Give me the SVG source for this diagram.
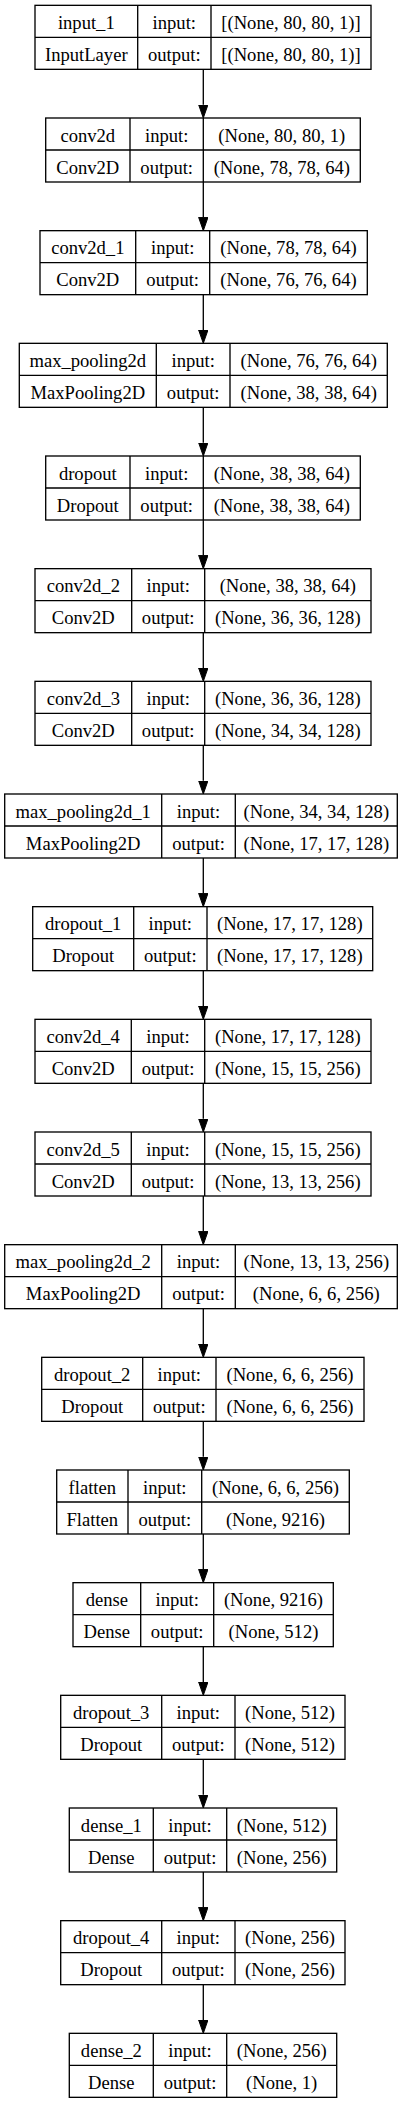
<svg xmlns="http://www.w3.org/2000/svg" width="407" height="2103" viewBox="0 0 407 2103">
<style>
.b{fill:none;stroke:#000;stroke-width:1.33}
text{font-family:"Liberation Serif","Times New Roman",serif;font-size:18.6px;fill:#000;text-anchor:middle}
.e{stroke:#000;stroke-width:1.33;fill:none}
</style>
<defs>
<marker id="ah" markerUnits="userSpaceOnUse" markerWidth="14" markerHeight="10" refX="0" refY="4.67" orient="auto" viewBox="0 0 14 10">
<path d="M0,0 L13.3,4.67 L0,9.33 Z" fill="#000" stroke="#000" stroke-width="1"/>
</marker>
</defs>
<rect width="407" height="2103" fill="#fff"/>
<g id="connectors">
<path class="e" marker-end="url(#ah)" d="M203.3,69.33 V104.7"/>
<path class="e" marker-end="url(#ah)" d="M203.3,182 V217.37"/>
<path class="e" marker-end="url(#ah)" d="M203.3,294.67 V330.03"/>
<path class="e" marker-end="url(#ah)" d="M203.3,407.33 V442.7"/>
<path class="e" marker-end="url(#ah)" d="M203.3,520 V555.37"/>
<path class="e" marker-end="url(#ah)" d="M203.3,632.67 V668.03"/>
<path class="e" marker-end="url(#ah)" d="M203.3,745.33 V780.7"/>
<path class="e" marker-end="url(#ah)" d="M203.3,858 V893.37"/>
<path class="e" marker-end="url(#ah)" d="M203.3,970.67 V1006.03"/>
<path class="e" marker-end="url(#ah)" d="M203.3,1083.33 V1118.7"/>
<path class="e" marker-end="url(#ah)" d="M203.3,1196 V1231.37"/>
<path class="e" marker-end="url(#ah)" d="M203.3,1308.67 V1344.03"/>
<path class="e" marker-end="url(#ah)" d="M203.3,1421.33 V1456.7"/>
<path class="e" marker-end="url(#ah)" d="M203.3,1534 V1569.37"/>
<path class="e" marker-end="url(#ah)" d="M203.3,1646.67 V1682.03"/>
<path class="e" marker-end="url(#ah)" d="M203.3,1759.33 V1794.7"/>
<path class="e" marker-end="url(#ah)" d="M203.3,1872 V1907.37"/>
<path class="e" marker-end="url(#ah)" d="M203.3,1984.67 V2020.03"/>
</g>
<g id="input_1" transform="translate(0,5.33)">
<rect class="b" x="35" y="0" width="336" height="64"/>
<path class="b" d="M35,32 H371 M137.7,0 V64 M211,0 V64"/>
<text x="86.3" y="23.5">input_1</text><text x="174.3" y="23.5">input:</text><text x="291" y="23.5">[(None, 80, 80, 1)]</text>
<text x="86.3" y="55.5">InputLayer</text><text x="174.3" y="55.5">output:</text><text x="291" y="55.5">[(None, 80, 80, 1)]</text>
</g>
<g id="conv2d" transform="translate(0,118)">
<rect class="b" x="45.7" y="0" width="314.6" height="64"/>
<path class="b" d="M45.7,32 H360.3 M130,0 V64 M203.3,0 V64"/>
<text x="87.8" y="23.5">conv2d</text><text x="166.7" y="23.5">input:</text><text x="281.8" y="23.5">(None, 80, 80, 1)</text>
<text x="87.8" y="55.5">Conv2D</text><text x="166.7" y="55.5">output:</text><text x="281.8" y="55.5">(None, 78, 78, 64)</text>
</g>
<g id="conv2d_1" transform="translate(0,230.67)">
<rect class="b" x="40" y="0" width="327.3" height="64"/>
<path class="b" d="M40,32 H367.3 M135.7,0 V64 M209.7,0 V64"/>
<text x="87.8" y="23.5">conv2d_1</text><text x="172.7" y="23.5">input:</text><text x="288.5" y="23.5">(None, 78, 78, 64)</text>
<text x="87.8" y="55.5">Conv2D</text><text x="172.7" y="55.5">output:</text><text x="288.5" y="55.5">(None, 76, 76, 64)</text>
</g>
<g id="max_pooling2d" transform="translate(0,343.33)">
<rect class="b" x="19.3" y="0" width="368" height="64"/>
<path class="b" d="M19.3,32 H387.3 M156.3,0 V64 M230,0 V64"/>
<text x="87.8" y="23.5">max_pooling2d</text><text x="193.2" y="23.5">input:</text><text x="308.7" y="23.5">(None, 76, 76, 64)</text>
<text x="87.8" y="55.5">MaxPooling2D</text><text x="193.2" y="55.5">output:</text><text x="308.7" y="55.5">(None, 38, 38, 64)</text>
</g>
<g id="dropout" transform="translate(0,456)">
<rect class="b" x="45.7" y="0" width="314.6" height="64"/>
<path class="b" d="M45.7,32 H360.3 M130,0 V64 M203.3,0 V64"/>
<text x="87.8" y="23.5">dropout</text><text x="166.7" y="23.5">input:</text><text x="281.8" y="23.5">(None, 38, 38, 64)</text>
<text x="87.8" y="55.5">Dropout</text><text x="166.7" y="55.5">output:</text><text x="281.8" y="55.5">(None, 38, 38, 64)</text>
</g>
<g id="conv2d_2" transform="translate(0,568.67)">
<rect class="b" x="35" y="0" width="336" height="64"/>
<path class="b" d="M35,32 H371 M131.7,0 V64 M204.7,0 V64"/>
<text x="83.3" y="23.5">conv2d_2</text><text x="168.2" y="23.5">input:</text><text x="287.8" y="23.5">(None, 38, 38, 64)</text>
<text x="83.3" y="55.5">Conv2D</text><text x="168.2" y="55.5">output:</text><text x="287.8" y="55.5">(None, 36, 36, 128)</text>
</g>
<g id="conv2d_3" transform="translate(0,681.33)">
<rect class="b" x="35" y="0" width="336" height="64"/>
<path class="b" d="M35,32 H371 M131.7,0 V64 M204.7,0 V64"/>
<text x="83.3" y="23.5">conv2d_3</text><text x="168.2" y="23.5">input:</text><text x="287.8" y="23.5">(None, 36, 36, 128)</text>
<text x="83.3" y="55.5">Conv2D</text><text x="168.2" y="55.5">output:</text><text x="287.8" y="55.5">(None, 34, 34, 128)</text>
</g>
<g id="max_pooling2d_1" transform="translate(0,794)">
<rect class="b" x="4.7" y="0" width="392.6" height="64"/>
<path class="b" d="M4.7,32 H397.3 M161.7,0 V64 M235.3,0 V64"/>
<text x="83.2" y="23.5">max_pooling2d_1</text><text x="198.5" y="23.5">input:</text><text x="316.3" y="23.5">(None, 34, 34, 128)</text>
<text x="83.2" y="55.5">MaxPooling2D</text><text x="198.5" y="55.5">output:</text><text x="316.3" y="55.5">(None, 17, 17, 128)</text>
</g>
<g id="dropout_1" transform="translate(0,906.67)">
<rect class="b" x="32.7" y="0" width="340" height="64"/>
<path class="b" d="M32.7,32 H372.7 M133.7,0 V64 M207,0 V64"/>
<text x="83.2" y="23.5">dropout_1</text><text x="170.3" y="23.5">input:</text><text x="289.8" y="23.5">(None, 17, 17, 128)</text>
<text x="83.2" y="55.5">Dropout</text><text x="170.3" y="55.5">output:</text><text x="289.8" y="55.5">(None, 17, 17, 128)</text>
</g>
<g id="conv2d_4" transform="translate(0,1019.33)">
<rect class="b" x="35" y="0" width="336" height="64"/>
<path class="b" d="M35,32 H371 M131.3,0 V64 M204.7,0 V64"/>
<text x="83.2" y="23.5">conv2d_4</text><text x="168" y="23.5">input:</text><text x="287.8" y="23.5">(None, 17, 17, 128)</text>
<text x="83.2" y="55.5">Conv2D</text><text x="168" y="55.5">output:</text><text x="287.8" y="55.5">(None, 15, 15, 256)</text>
</g>
<g id="conv2d_5" transform="translate(0,1132)">
<rect class="b" x="35" y="0" width="336" height="64"/>
<path class="b" d="M35,32 H371 M131.3,0 V64 M204.7,0 V64"/>
<text x="83.2" y="23.5">conv2d_5</text><text x="168" y="23.5">input:</text><text x="287.8" y="23.5">(None, 15, 15, 256)</text>
<text x="83.2" y="55.5">Conv2D</text><text x="168" y="55.5">output:</text><text x="287.8" y="55.5">(None, 13, 13, 256)</text>
</g>
<g id="max_pooling2d_2" transform="translate(0,1244.67)">
<rect class="b" x="4.7" y="0" width="392.6" height="64"/>
<path class="b" d="M4.7,32 H397.3 M161.7,0 V64 M235.3,0 V64"/>
<text x="83.2" y="23.5">max_pooling2d_2</text><text x="198.5" y="23.5">input:</text><text x="316.3" y="23.5">(None, 13, 13, 256)</text>
<text x="83.2" y="55.5">MaxPooling2D</text><text x="198.5" y="55.5">output:</text><text x="316.3" y="55.5">(None, 6, 6, 256)</text>
</g>
<g id="dropout_2" transform="translate(0,1357.33)">
<rect class="b" x="41.7" y="0" width="322.3" height="64"/>
<path class="b" d="M41.7,32 H364 M142.7,0 V64 M216,0 V64"/>
<text x="92.2" y="23.5">dropout_2</text><text x="179.3" y="23.5">input:</text><text x="290" y="23.5">(None, 6, 6, 256)</text>
<text x="92.2" y="55.5">Dropout</text><text x="179.3" y="55.5">output:</text><text x="290" y="55.5">(None, 6, 6, 256)</text>
</g>
<g id="flatten" transform="translate(0,1470)">
<rect class="b" x="56.7" y="0" width="292.6" height="64"/>
<path class="b" d="M56.7,32 H349.3 M128,0 V64 M201.7,0 V64"/>
<text x="92.3" y="23.5">flatten</text><text x="164.8" y="23.5">input:</text><text x="275.5" y="23.5">(None, 6, 6, 256)</text>
<text x="92.3" y="55.5">Flatten</text><text x="164.8" y="55.5">output:</text><text x="275.5" y="55.5">(None, 9216)</text>
</g>
<g id="dense" transform="translate(0,1582.67)">
<rect class="b" x="73" y="0" width="260.3" height="64"/>
<path class="b" d="M73,32 H333.3 M140.7,0 V64 M213.7,0 V64"/>
<text x="106.8" y="23.5">dense</text><text x="177.2" y="23.5">input:</text><text x="273.5" y="23.5">(None, 9216)</text>
<text x="106.8" y="55.5">Dense</text><text x="177.2" y="55.5">output:</text><text x="273.5" y="55.5">(None, 512)</text>
</g>
<g id="dropout_3" transform="translate(0,1695.33)">
<rect class="b" x="60.7" y="0" width="284.3" height="64"/>
<path class="b" d="M60.7,32 H345 M161.7,0 V64 M235,0 V64"/>
<text x="111.2" y="23.5">dropout_3</text><text x="198.3" y="23.5">input:</text><text x="290" y="23.5">(None, 512)</text>
<text x="111.2" y="55.5">Dropout</text><text x="198.3" y="55.5">output:</text><text x="290" y="55.5">(None, 512)</text>
</g>
<g id="dense_1" transform="translate(0,1808)">
<rect class="b" x="69.3" y="0" width="267.4" height="64"/>
<path class="b" d="M69.3,32 H336.7 M153.3,0 V64 M226.7,0 V64"/>
<text x="111.3" y="23.5">dense_1</text><text x="190" y="23.5">input:</text><text x="281.7" y="23.5">(None, 512)</text>
<text x="111.3" y="55.5">Dense</text><text x="190" y="55.5">output:</text><text x="281.7" y="55.5">(None, 256)</text>
</g>
<g id="dropout_4" transform="translate(0,1920.67)">
<rect class="b" x="60.7" y="0" width="284.3" height="64"/>
<path class="b" d="M60.7,32 H345 M161.7,0 V64 M235,0 V64"/>
<text x="111.2" y="23.5">dropout_4</text><text x="198.3" y="23.5">input:</text><text x="290" y="23.5">(None, 256)</text>
<text x="111.2" y="55.5">Dropout</text><text x="198.3" y="55.5">output:</text><text x="290" y="55.5">(None, 256)</text>
</g>
<g id="dense_2" transform="translate(0,2033.33)">
<rect class="b" x="69.3" y="0" width="267.4" height="64"/>
<path class="b" d="M69.3,32 H336.7 M153.3,0 V64 M226.7,0 V64"/>
<text x="111.3" y="23.5">dense_2</text><text x="190" y="23.5">input:</text><text x="281.7" y="23.5">(None, 256)</text>
<text x="111.3" y="55.5">Dense</text><text x="190" y="55.5">output:</text><text x="281.7" y="55.5">(None, 1)</text>
</g>
</svg>
